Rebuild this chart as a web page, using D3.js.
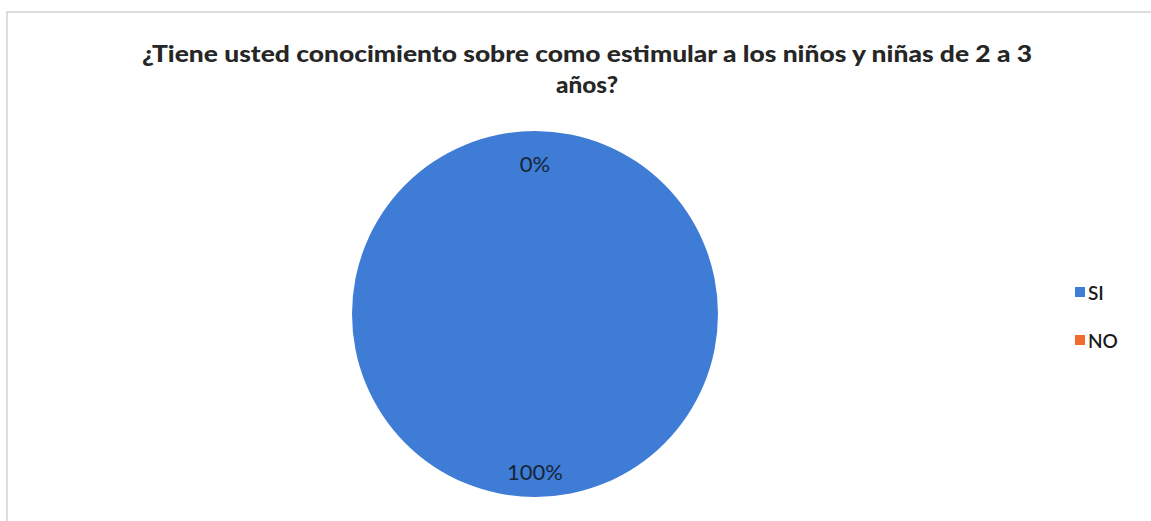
<!DOCTYPE html>
<html>
<head>
<meta charset="utf-8">
<script src="https://cdn.jsdelivr.net/npm/d3@7"></script>
<style>
  html, body { margin: 0; padding: 0; background: #ffffff; }
  svg { display: block; }
</style>
</head>
<body>
<svg id="chart" width="1151" height="521"></svg>
<script>
const titleLines = ["¿Tiene usted conocimiento sobre como estimular a los niños y niñas de 2 a 3", "años?"];
const categories = ["SI", "NO"];
const values = [100, 0];
const labels = ["100%", "0%"];
const colors = ["#3f7cd6", "#f26b2e"];

const svg = d3.select("#chart");
const W = 1151, H = 521;

// chart frame
svg.append("rect").attr("x", 7).attr("y", 12).attr("width", W + 20).attr("height", H + 20)
  .attr("fill", "#ffffff").attr("stroke", "#d4d4d4").attr("stroke-width", 1.5);

// title
const title = svg.append("g").attr("font-family", "Lato, 'Open Sans', sans-serif")
  .attr("font-weight", 900).attr("fill", "#262626").attr("font-size", 22);
title.append("text").attr("x", 587).attr("y", 62).attr("text-anchor", "middle")
  .attr("textLength", 890).attr("lengthAdjust", "spacingAndGlyphs").text(titleLines[0]);
title.append("text").attr("x", 587).attr("y", 93).attr("text-anchor", "middle")
  .attr("textLength", 62).attr("lengthAdjust", "spacingAndGlyphs").text(titleLines[1]);

// pie
const cx = 535, cy = 314, r = 183;
const pie = d3.pie().sort(null).value(d => d.v).startAngle(0).endAngle(2 * Math.PI);
const data = pie(categories.map((c, i) => ({ c, v: values[i], label: labels[i], color: colors[i] })));
const arc = d3.arc().innerRadius(0).outerRadius(r);
const labelArc = d3.arc().innerRadius(157).outerRadius(157);

const g = svg.append("g").attr("transform", `translate(${cx},${cy})`);
g.selectAll("path").data(data).enter().append("path")
  .attr("d", arc).attr("fill", d => d.data.color);

g.selectAll("text.lbl").data(data).enter().append("text")
  .attr("class", "lbl")
  .attr("transform", d => {
    let [x, y] = labelArc.centroid(d);
    if (d.endAngle - d.startAngle === 0) {
      const a = d.startAngle;
      x = Math.sin(a) * 151; y = -Math.cos(a) * 151;
    }
    return `translate(${x},${y})`;
  })
  .attr("text-anchor", "middle").attr("dominant-baseline", "central")
  .attr("font-family", "Lato, 'Open Sans', sans-serif").attr("font-size", 22)
  .attr("fill", "#162538").text(d => d.data.label);

// legend
const leg = svg.append("g").attr("transform", "translate(1075,292)");
const items = leg.selectAll("g").data(categories).enter().append("g")
  .attr("transform", (d, i) => `translate(0,${i * 48})`);
items.append("rect").attr("x", 0).attr("y", -5).attr("width", 10).attr("height", 10)
  .attr("fill", (d, i) => colors[i]);
items.append("text").attr("x", 13).attr("y", 0).attr("dominant-baseline", "central")
  .attr("font-family", "Lato, 'Open Sans', sans-serif").attr("font-size", 19).attr("font-weight", 600)
  .attr("fill", "#1a1a1a").text(d => d);
</script>
</body>
</html>
